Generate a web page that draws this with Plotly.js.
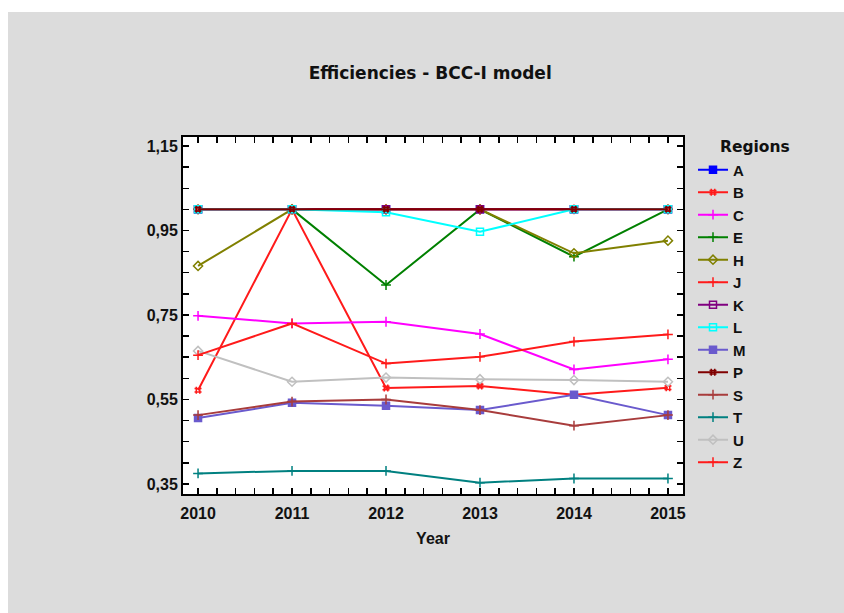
<!DOCTYPE html>
<html>
<head>
<meta charset="utf-8">
<script src="https://cdn.plot.ly/plotly-3.0.1.min.js"></script>
<style>
  html, body { margin: 0; padding: 0; background: #ffffff; }
  #chart { position: absolute; left: 8px; top: 12px; width: 836px; height: 601px; }
</style>
</head>
<body>
<div id="chart"></div>
<script>
// Years on the x axis
const years = [2010, 2011, 2012, 2013, 2014, 2015];

// BCC-I efficiency scores per region
const regionA = [1.000, 1.000, 1.000, 1.000, 1.000, 1.000];
const regionB = [0.572, 1.000, 0.577, 0.582, 0.561, 0.578];
const regionC = [0.748, 0.730, 0.734, 0.705, 0.621, 0.645];
const regionE = [1.000, 1.000, 0.821, 1.000, 0.888, 1.000];
const regionH = [0.866, 1.000, 1.000, 1.000, 0.896, 0.926];
const regionJ = [1.000, 1.000, 1.000, 1.000, 1.000, 1.000];
const regionK = [1.000, 1.000, 1.000, 1.000, 1.000, 1.000];
const regionL = [1.000, 1.000, 0.993, 0.947, 1.000, 1.000];
const regionM = [0.506, 0.542, 0.535, 0.525, 0.561, 0.513];
const regionP = [1.000, 1.000, 1.000, 1.000, 1.000, 1.000];
const regionS = [0.513, 0.545, 0.550, 0.525, 0.488, 0.513];
const regionT = [0.375, 0.381, 0.381, 0.353, 0.363, 0.363];
const regionU = [0.665, 0.592, 0.602, 0.598, 0.596, 0.592];
const regionZ = [0.655, 0.730, 0.635, 0.651, 0.687, 0.704];

const regionNames = ['A', 'B', 'C', 'E', 'H', 'J', 'K', 'L', 'M', 'P', 'S', 'T', 'U', 'Z'];
const regionValues = [regionA, regionB, regionC, regionE, regionH, regionJ, regionK,
                      regionL, regionM, regionP, regionS, regionT, regionU, regionZ];

// Line colour and marker symbol for each region
const regionColors = ['#0000ff', '#ff1a1a', '#ff00ff', '#008000', '#808000', '#ff1a1a', '#800080',
                      '#00ffff', '#6a5acd', '#800000', '#a83c3c', '#008080', '#c0c0c0', '#ff1a1a'];
const regionSymbols = ['square', 'hash-open', 'cross-thin-open', 'cross-thin-open', 'diamond-open',
                       'cross-thin-open', 'square-open', 'square-open', 'square', 'hash-open',
                       'cross-thin-open', 'cross-thin-open', 'diamond-open', 'cross-thin-open'];

const traces = regionNames.map((name, i) => ({
  type: 'scatter',
  mode: 'lines+markers',
  name: name,
  x: years,
  y: regionValues[i],
  line: { color: regionColors[i], width: 2 },
  marker: {
    symbol: regionSymbols[i],
    size: 7,
    color: regionColors[i],
    line: { color: regionColors[i], width: 1.5 }
  }
}));

const axisFont = { family: 'Liberation Sans, Arial, sans-serif', size: 16, color: '#111111', weight: 'bold' };

const layout = {
  width: 836,
  height: 601,
  paper_bgcolor: '#dcdcdc',
  plot_bgcolor: '#ffffff',
  margin: { l: 175, r: 161, t: 125, b: 119, pad: 0 },
  separators: ',.',
  title: {
    text: 'Efficiencies - BCC-I model',
    font: { family: 'DejaVu Sans, sans-serif', size: 17, color: '#111111', weight: 'bold' },
    xref: 'container', x: 0.505, xanchor: 'center',
    yref: 'container', y: 0.8985, yanchor: 'middle'
  },
  xaxis: {
    range: [2009.84, 2015.16],
    tickmode: 'array',
    tickvals: years,
    ticktext: years.map(String),
    ticks: 'inside', ticklen: 6, tickwidth: 1.5, tickcolor: '#000000',
    ticklabelstandoff: 4,
    minor: { dtick: 0.2, tick0: 2010, ticks: 'inside', ticklen: 6, tickwidth: 1.5, tickcolor: '#000000', showgrid: false },
    showline: true, linecolor: '#000000', linewidth: 2, mirror: 'allticks',
    showgrid: false, zeroline: false,
    tickfont: axisFont,
    title: { text: 'Year', font: axisFont, standoff: 12 }
  },
  yaxis: {
    range: [0.3263, 1.1713],
    tick0: 0.35, dtick: 0.2, tickformat: '.2f',
    ticks: 'inside', ticklen: 6, tickwidth: 1.5, tickcolor: '#000000',
    minor: { dtick: 0.05, tick0: 0.35, ticks: 'inside', ticklen: 6, tickwidth: 1.5, tickcolor: '#000000', showgrid: false },
    showline: true, linecolor: '#000000', linewidth: 2, mirror: 'allticks',
    showgrid: false, zeroline: false,
    tickfont: axisFont
  },
  showlegend: true,
  legend: {
    x: 1.02, y: 0.954, xanchor: 'left', yanchor: 'top',
    bgcolor: 'rgba(0,0,0,0)', borderwidth: 0,
    font: { family: 'Liberation Sans, Arial, sans-serif', size: 15, color: '#111111', weight: 'bold' },
    tracegroupgap: 0, itemwidth: 30
  },
  annotations: [{
    text: 'Regions',
    xref: 'paper', yref: 'paper', x: 1.144, y: 0.972,
    xanchor: 'center', yanchor: 'middle', showarrow: false,
    font: { family: 'DejaVu Sans, sans-serif', size: 15.5, color: '#111111', weight: 'bold' }
  }]
};

Plotly.newPlot('chart', traces, layout, { displayModeBar: false, staticPlot: true });
</script>
</body>
</html>
